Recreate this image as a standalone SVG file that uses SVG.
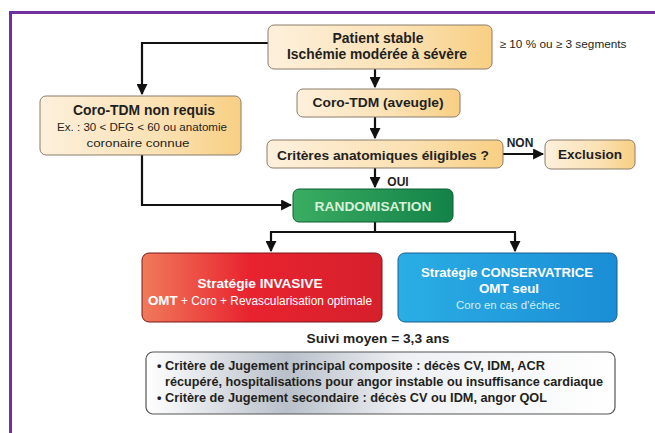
<svg xmlns="http://www.w3.org/2000/svg" width="655" height="433" viewBox="0 0 655 433">
<defs>
<linearGradient id="beige" x1="0" y1="0" x2="1" y2="0">
<stop offset="0" stop-color="#fdf0dc"/><stop offset="0.6" stop-color="#fbe1b3"/><stop offset="1" stop-color="#f8cf83"/>
</linearGradient>
<linearGradient id="green" x1="0" y1="0" x2="1" y2="0">
<stop offset="0" stop-color="#3aad62"/><stop offset="1" stop-color="#138248"/>
</linearGradient>
<linearGradient id="red" x1="0" y1="0" x2="1" y2="0">
<stop offset="0" stop-color="#f07a5a"/><stop offset="0.45" stop-color="#e8232f"/><stop offset="1" stop-color="#d5202c"/>
</linearGradient>
<linearGradient id="blue" x1="0" y1="0" x2="1" y2="0">
<stop offset="0" stop-color="#2aaee4"/><stop offset="1" stop-color="#1b8dd6"/>
</linearGradient>
<linearGradient id="grey" x1="0" y1="0" x2="1" y2="0">
<stop offset="0" stop-color="#ffffff"/><stop offset="0.3" stop-color="#b9c0ca"/><stop offset="0.55" stop-color="#eef0f3"/><stop offset="1" stop-color="#ffffff"/>
</linearGradient>
<marker id="ah" viewBox="0 0 10 10" refX="9" refY="5" markerWidth="5" markerHeight="5" orient="auto" markerUnits="strokeWidth">
<path d="M0,0 L10,5 L0,10 z" fill="#111"/>
</marker>
<style>
.bx{fill:url(#beige);stroke:#8b7d6b;stroke-width:1}
.t{font-family:"Liberation Sans",Arial,sans-serif;text-anchor:middle;fill:#231f20}
.b{font-weight:bold}
.w{fill:#ffffff}
.c{fill:none;stroke:#111;stroke-width:2.2}
.ca{fill:none;stroke:#111;stroke-width:2.2;marker-end:url(#ah)}
</style>
</defs>
<rect width="655" height="433" fill="#ffffff"/>
<path d="M10.5,433 L10.5,12.5 L655,12.5" fill="none" stroke="#7030a0" stroke-width="3"/>

<g id="connectors">
<path class="ca" d="M268,43 L142,43 L142,94"/>
<path class="ca" d="M142,155 L142,205 L291,205"/>
<path class="ca" d="M375,69 L375,87"/>
<path class="ca" d="M375,117 L375,138"/>
<path class="ca" d="M375,168 L375,187"/>
<path class="ca" d="M503,154 L543,154"/>
<path class="c" d="M375,222 L375,232"/>
<path class="c" d="M270,232 L516,232"/>
<path class="ca" d="M271,232 L271,251"/>
<path class="ca" d="M515,232 L515,251"/>
<text class="t b" x="520" y="147" font-size="12">NON</text>
<text class="t b" x="398" y="186" font-size="12">OUI</text>
</g>

<g id="patient">
<rect class="bx" x="268" y="25" width="224" height="44" rx="6"/>
<text class="t b" x="378" y="43" font-size="14" textLength="91" lengthAdjust="spacingAndGlyphs">Patient stable</text>
<text class="t b" x="377" y="59" font-size="14" textLength="180" lengthAdjust="spacingAndGlyphs">Ischémie modérée à sévère</text>
</g>
<g id="seuil">
<text class="t" x="563" y="48" font-size="11" textLength="127" lengthAdjust="spacingAndGlyphs">≥ 10 % ou ≥ 3 segments</text>
</g>

<g id="non-requis">
<rect class="bx" x="40" y="96" width="201" height="59" rx="6"/>
<text class="t b" x="144" y="115" font-size="14" textLength="142" lengthAdjust="spacingAndGlyphs">Coro-TDM non requis</text>
<text class="t" x="142" y="131" font-size="10.5" textLength="170" lengthAdjust="spacingAndGlyphs">Ex. : 30 &lt; DFG &lt; 60 ou anatomie</text>
<text class="t" x="138" y="147" font-size="10.5" textLength="103" lengthAdjust="spacingAndGlyphs">coronaire connue</text>
</g>

<g id="coro-tdm">
<rect class="bx" x="297" y="89" width="163" height="28" rx="6"/>
<text class="t b" x="378" y="107" font-size="13.5" textLength="131" lengthAdjust="spacingAndGlyphs">Coro-TDM (aveugle)</text>
</g>

<g id="criteres">
<rect class="bx" x="267" y="140" width="236" height="28" rx="6"/>
<text class="t b" x="383" y="160" font-size="13.5" textLength="212" lengthAdjust="spacingAndGlyphs">Critères anatomiques éligibles ?</text>
</g>

<g id="exclusion">
<rect class="bx" x="545" y="140" width="90" height="29" rx="6"/>
<text class="t b" x="590" y="159" font-size="13.5" textLength="64" lengthAdjust="spacingAndGlyphs">Exclusion</text>
</g>

<g id="randomisation">
<rect x="293" y="189" width="160" height="33" rx="6" fill="url(#green)" stroke="#0d5e33" stroke-width="1"/>
<text class="t b" x="373" y="211" font-size="13" fill="#d8f0d6" style="fill:#d8f0d6" textLength="117" lengthAdjust="spacingAndGlyphs">RANDOMISATION</text>
</g>

<g id="invasive">
<rect x="142" y="253" width="240" height="69" rx="7" fill="url(#red)" stroke="#7a1a1a" stroke-width="1"/>
<text class="t b w" x="260" y="288" font-size="13.5" textLength="125" lengthAdjust="spacingAndGlyphs">Stratégie INVASIVE</text>
<text class="t w" x="260" y="305" font-size="12" textLength="224" lengthAdjust="spacingAndGlyphs"><tspan font-weight="bold" font-size="13.5">OMT</tspan> + Coro + Revascularisation optimale</text>
</g>

<g id="conservatrice">
<rect x="398" y="253" width="219" height="69" rx="7" fill="url(#blue)" stroke="#1a5f8f" stroke-width="1"/>
<text class="t b w" x="507" y="277" font-size="13.5" textLength="172" lengthAdjust="spacingAndGlyphs">Stratégie CONSERVATRICE</text>
<text class="t b w" x="509" y="293" font-size="13.5" textLength="60" lengthAdjust="spacingAndGlyphs">OMT seul</text>
<text class="t" x="508" y="309" font-size="11" style="fill:#d6eefa" textLength="104" lengthAdjust="spacingAndGlyphs">Coro en cas d’échec</text>
</g>

<g id="suivi">
<text class="t b" x="378" y="343" font-size="13.5" textLength="143" lengthAdjust="spacingAndGlyphs">Suivi moyen = 3,3 ans</text>
</g>

<g id="criteres-jugement">
<rect x="146" y="352" width="469" height="62" rx="7" fill="url(#grey)" stroke="#555" stroke-width="1.2"/>
<text class="t b" x="157" y="370" font-size="12.5" style="text-anchor:start" textLength="388" lengthAdjust="spacingAndGlyphs">• Critère de Jugement principal composite : décès CV, IDM, ACR</text>
<text class="t b" x="165" y="386" font-size="12.5" style="text-anchor:start" textLength="438" lengthAdjust="spacingAndGlyphs">récupéré, hospitalisations pour angor instable ou insuffisance cardiaque</text>
<text class="t b" x="157" y="402" font-size="12.5" style="text-anchor:start" textLength="390" lengthAdjust="spacingAndGlyphs">• Critère de Jugement secondaire : décès CV ou IDM, angor QOL</text>
</g>
</svg>
